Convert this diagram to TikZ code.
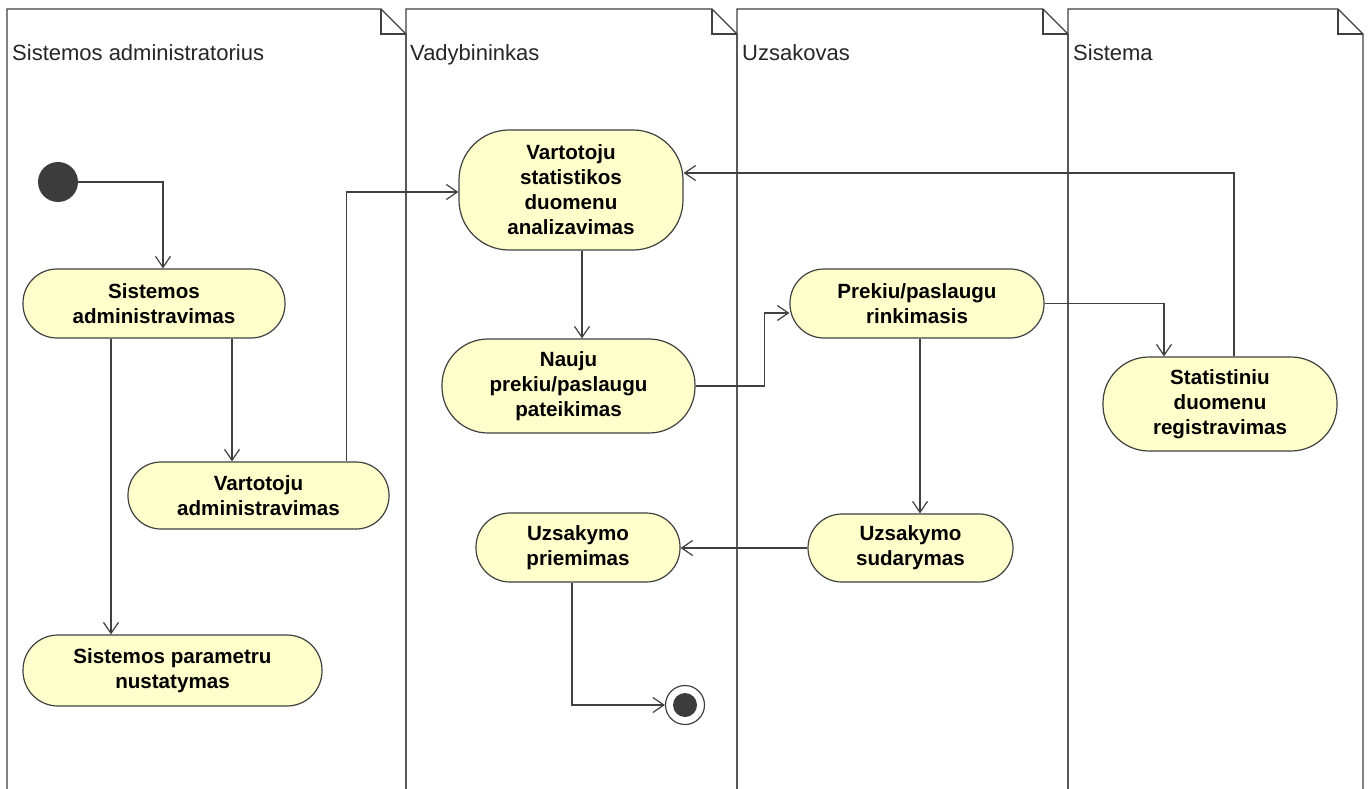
\documentclass[tikz,border=0pt]{standalone}
\usepackage{fontspec}
\setmainfont{Liberation Sans}
\usetikzlibrary{arrows.meta}
\definecolor{linegray}{RGB}{64,64,64}
\definecolor{actfill}{RGB}{255,255,204}
\definecolor{dotfill}{RGB}{60,60,60}
\tikzset{
  lane/.style={draw=linegray, line width=1.3pt, line join=miter},
  lanetitle/.style={anchor=base west, inner sep=0pt, font=\fontsize{22}{26}\selectfont, text=black!85},
  activity/.style={draw=linegray, line width=1.2pt, fill=actfill, inner sep=0pt, align=center,
    font=\fontsize{20.6}{25}\selectfont\bfseries},
  flow/.style={draw=linegray, line width=1.2pt, -{Straight Barb[length=11pt,width=15pt,line width=1.2pt]}},
}
\newcommand{\swimlane}[2]{%
  \draw[lane] (#1,800) -- (#1,9) -- (#2-25,9) -- (#2,34) -- (#2,800);
  \draw[lane] (#2-25,9) -- (#2-25,34) -- (#2,34);}
\begin{document}
\begin{tikzpicture}[x=1pt,y=-1pt]
\useasboundingbox (0,0) rectangle (1371,789);
\fill[white] (0,0) rectangle (1371,789);

% swimlanes with folded corners
\swimlane{7}{406}
\swimlane{406}{737}
\swimlane{737}{1068}
\swimlane{1068}{1363}
\node[lanetitle] (t1) at (12,61) {Sistemos administratorius};
\node[lanetitle] (t2) at (410,61) {Vadybininkas};
\node[lanetitle] (t3) at (742,61) {Uzsakovas};
\node[lanetitle] (t4) at (1073,61) {Sistema};

% start and end
\node[circle, fill=dotfill, minimum size=40pt, inner sep=0pt] (init) at (58,182) {};
\node[circle, draw=linegray, line width=1.2pt, fill=white, minimum size=39pt, inner sep=0pt] (final) at (685,705) {};
\fill[dotfill] (final.center) circle (12pt);

% activities
\node[activity, minimum width=262pt, minimum height=69pt, rounded corners=34pt] (sisadm) at (154,303.5) {Sistemos\\administravimas};
\node[activity, minimum width=261pt, minimum height=67pt, rounded corners=33pt] (vartadm) at (258.5,495.5) {Vartotoju\\administravimas};
\node[activity, minimum width=299pt, minimum height=71pt, rounded corners=35pt] (sisparam) at (172.5,670.5) {Sistemos parametru\\nustatymas};
\node[activity, minimum width=224pt, minimum height=120pt, rounded corners=50pt] (vartstat) at (571,190) {Vartotoju\\statistikos\\duomenu\\analizavimas};
\node[activity, minimum width=253pt, minimum height=94pt, rounded corners=46pt] (nauju) at (568.5,386) {Nauju\\prekiu/paslaugu\\pateikimas};
\node[activity, minimum width=254pt, minimum height=69pt, rounded corners=34pt] (prekiu) at (917,303.5) {Prekiu/paslaugu\\rinkimasis};
\node[activity, minimum width=234pt, minimum height=94pt, rounded corners=46pt] (statreg) at (1220,404) {Statistiniu\\duomenu\\registravimas};
\node[activity, minimum width=205pt, minimum height=68pt, rounded corners=34pt] (uzsud) at (910.5,548) {Uzsakymo\\sudarymas};
\node[activity, minimum width=204pt, minimum height=69pt, rounded corners=34pt] (uzpri) at (578,547.5) {Uzsakymo\\priemimas};

% control flows
\draw[flow] (init.east) -| ([xshift=9pt]sisadm.north);
\draw[flow] ([xshift=78pt]sisadm.south) -- ([xshift=78pt]sisadm.south |- vartadm.north);
\draw[flow] ([xshift=-43pt]sisadm.south) -- ([xshift=-43pt]sisadm.south |- sisparam.north);
\draw[flow] ([xshift=88pt]vartadm.north) |- ([yshift=-2pt]vartstat.west);
\draw[flow] ([xshift=11pt]vartstat.south) -- ([xshift=11pt]vartstat.south |- nauju.north);
\draw[flow] (nauju.east) -- ++(69,0) |- ([yshift=-9.5pt]prekiu.west);
\draw[flow] (prekiu.east) -| ([xshift=-56pt]statreg.north);
\draw[flow] ([xshift=14pt]statreg.north) |- ([yshift=17pt]vartstat.east);
\draw[flow] ([xshift=3pt]prekiu.south) -- ([xshift=3pt]prekiu.south |- uzsud.north);
\draw[flow] (uzsud.west) -- (uzsud.west -| uzpri.east);
\draw[flow] ([xshift=-6pt]uzpri.south) |- (final.west);
\end{tikzpicture}
\end{document}
